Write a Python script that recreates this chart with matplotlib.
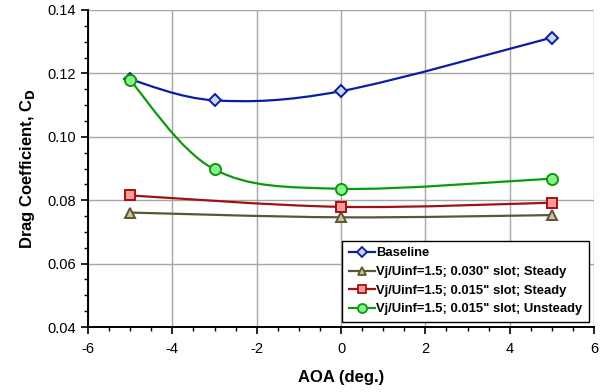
import matplotlib
matplotlib.use("Agg")
import matplotlib.pyplot as plt
from matplotlib.path import Path
from matplotlib.patches import PathPatch
from matplotlib.lines import Line2D
from matplotlib.ticker import MultipleLocator, FormatStrFormatter

plt.rcParams['font.family'] = ['Liberation Sans', 'DejaVu Sans']
plt.rcParams['axes.unicode_minus'] = False

# data
aoa_baseline = [-5, -3, 0, 5]
cd_baseline = [0.1181, 0.1115, 0.1144, 0.1313]

aoa_030_steady = [-5, 0, 5]
cd_030_steady = [0.0761, 0.0746, 0.0753]

aoa_015_steady = [-5, 0, 5]
cd_015_steady = [0.0815, 0.0779, 0.0792]

aoa_015_unsteady = [-5, -3, 0, 5]
cd_015_unsteady = [0.1178, 0.0897, 0.0836, 0.0868]

labels = ["Baseline",
          "Vj/Uinf=1.5; 0.030\" slot; Steady",
          "Vj/Uinf=1.5; 0.015\" slot; Steady",
          "Vj/Uinf=1.5; 0.015\" slot; Unsteady"]


def smooth_path(x, y):
    # excel style smoothed line as cubic bezier segments
    pts = list(zip(x, y))
    n = len(pts)
    verts = [pts[0]]
    codes = [Path.MOVETO]
    for i in range(n - 1):
        p0 = pts[i - 1] if i > 0 else pts[i]
        p1 = pts[i]
        p2 = pts[i + 1]
        p3 = pts[i + 2] if i + 2 < n else pts[i + 1]
        c1 = (p1[0] + (p2[0] - p0[0]) / 6, p1[1] + (p2[1] - p0[1]) / 6)
        c2 = (p2[0] - (p3[0] - p1[0]) / 6, p2[1] - (p3[1] - p1[1]) / 6)
        verts += [c1, c2, p2]
        codes += [Path.CURVE4] * 3
    return Path(verts, codes)


fig = plt.figure(figsize=(6.12, 3.92), dpi=100)
ax = fig.add_axes([0.1438, 0.1658, 0.8268, 0.8087])

series = [
    (aoa_baseline, cd_baseline, "#0A1EA0", "#C8D6EE", "D", 6.5),
    (aoa_030_steady, cd_030_steady, "#5E5535", "#C9C19E", "^", 7.5),
    (aoa_015_steady, cd_015_steady, "#A01212", "#F49C9C", "s", 7.5),
    (aoa_015_unsteady, cd_015_unsteady, "#0A9A0A", "#8AF08A", "o", 8),
]

handles = []
for k, (x, y, lc, fc, mk, ms) in enumerate(series):
    patch = PathPatch(smooth_path(x, y), facecolor="none", edgecolor=lc,
                      lw=1.6, zorder=3 + k)
    ax.add_patch(patch)
    ax.plot(x, y, linestyle="none", marker=mk, ms=ms, mfc=fc, mec=lc,
            mew=1.4, zorder=3.5 + k)
    handles.append(Line2D([], [], color=lc, lw=1.6, marker=mk, ms=ms - 1.5,
                          mfc=fc, mec=lc, mew=1.3))

ax.set_xlim(-6, 6)
ax.set_ylim(0.04, 0.14)
ax.xaxis.set_major_locator(MultipleLocator(2))
ax.xaxis.set_minor_locator(MultipleLocator(0.5))
ax.yaxis.set_major_locator(MultipleLocator(0.02))
ax.yaxis.set_minor_locator(MultipleLocator(0.005))
ax.yaxis.set_major_formatter(FormatStrFormatter("%.2f"))
ax.grid(True, which="major", color="#A6A6A6", lw=1.0, zorder=1)
ax.set_axisbelow(True)

ax.tick_params(which="major", direction="out", length=5, width=1.2,
               labelsize=10.5, pad=6)
ax.tick_params(which="minor", direction="out", length=3, width=1.0)
ax.tick_params(axis="y", pad=4)
for side in ["left", "bottom"]:
    ax.spines[side].set_linewidth(1.4)
for side in ["top", "right"]:
    ax.spines[side].set_visible(False)

ax.set_xlabel("AOA (deg.)", fontsize=12, fontweight="bold", labelpad=10)
ax.set_ylabel("Drag Coefficient, C$_\\mathbf{D}$", fontsize=12,
              fontweight="bold", labelpad=7)

leg = ax.legend(handles, labels, loc="lower right",
                bbox_to_anchor=(0.99, 0.016), borderaxespad=0,
                fancybox=False, edgecolor="black", framealpha=1,
                handlelength=2.0, handletextpad=0.1, borderpad=0.5,
                labelspacing=0.5, prop={"weight": "bold", "size": 9.4})
leg.get_frame().set_linewidth(1.0)
leg.set_zorder(10)

fig.savefig("out.png", dpi=100)
